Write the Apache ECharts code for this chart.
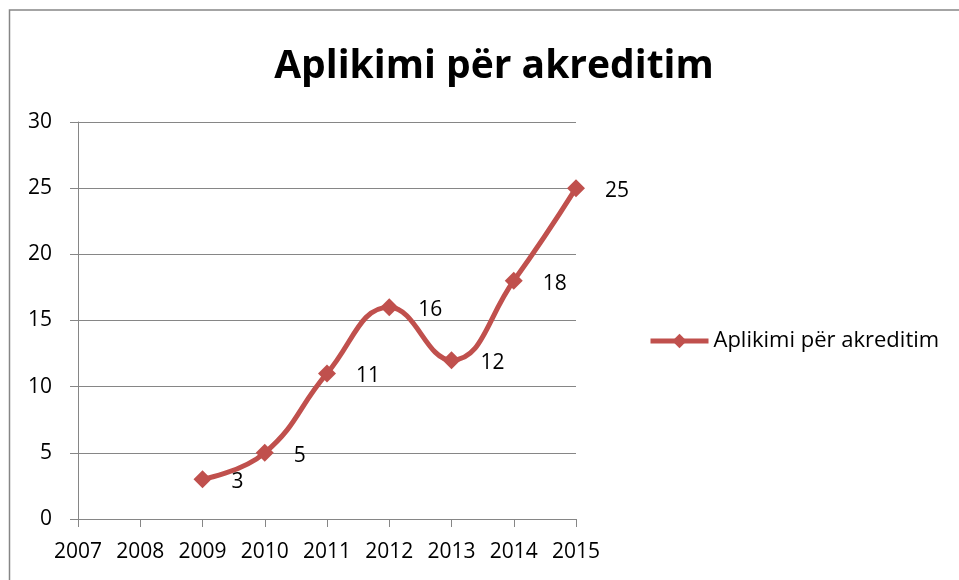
<!DOCTYPE html>
<html>
<head>
<meta charset="utf-8">
<script src="https://cdn.jsdelivr.net/npm/echarts@6/dist/echarts.min.js"></script>
<style>
  html, body { margin: 0; padding: 0; background: #fff; }
  #myChart { width: 959px; height: 580px; }
</style>
</head>
<body>
<div id="myChart"></div>
<script>
// categories on the x axis
var years = ['2007', '2008', '2009', '2010', '2011', '2012', '2013', '2014', '2015'];
// values of the one series (no data for 2007 and 2008)
var aplikime = [null, null, 3, 5, 11, 16, 12, 18, 25];
var seriesName = 'Aplikimi për akreditim';

var font = '"Open Sans", "Liberation Sans", sans-serif';
var red = '#C0504D';
var gray = '#868686';

var option = {
  animation: false,
  title: {
    text: seriesName,
    left: 489,
    top: 42,
    textAlign: 'center',
    textStyle: { fontFamily: font, fontSize: 39, fontWeight: 'bold', color: '#000' }
  },
  legend: {
    data: [seriesName],
    left: 643,
    top: 325,
    itemWidth: 58,
    itemHeight: 18,
    itemGap: 4,
    lineStyle: { width: 5 },
    textStyle: { fontFamily: font, fontSize: 22, color: '#000' }
  },
  grid: { left: 78, right: 383, top: 122, bottom: 61 },
  xAxis: {
    type: 'category',
    boundaryGap: false,
    data: years,
    axisLine: { lineStyle: { color: gray, width: 1 } },
    axisTick: { show: true, length: 8, interval: 0, lineStyle: { color: gray } },
    axisLabel: { margin: 23, interval: 0, fontFamily: font, fontSize: 21, color: '#000' }
  },
  yAxis: {
    type: 'value',
    min: 0,
    max: 30,
    interval: 5,
    axisLine: { show: true, lineStyle: { color: gray, width: 1 } },
    axisTick: { show: true, length: 8, inside: false, lineStyle: { color: gray } },
    axisLabel: { margin: 26, fontFamily: font, fontSize: 21, color: '#000' },
    splitLine: { lineStyle: { color: gray, width: 1 } }
  },
  series: [
    {
      name: seriesName,
      type: 'line',
      data: aplikime,
      smooth: 0.45,
      symbol: 'diamond',
      symbolSize: 18,
      itemStyle: { color: red },
      lineStyle: { color: red, width: 5 },
      label: {
        show: true,
        position: 'right',
        distance: 20,
        offset: [0, 3],
        fontFamily: font,
        fontSize: 21,
        color: '#000'
      }
    }
  ],
  graphic: [
    {
      type: 'rect',
      shape: { x: 9.5, y: 10, width: 1000, height: 1000 },
      style: { fill: 'none', stroke: gray, lineWidth: 1.5 },
      silent: true
    }
  ]
};

var myChart = echarts.init(document.getElementById('myChart'));
myChart.setOption(option);
</script>
</body>
</html>
